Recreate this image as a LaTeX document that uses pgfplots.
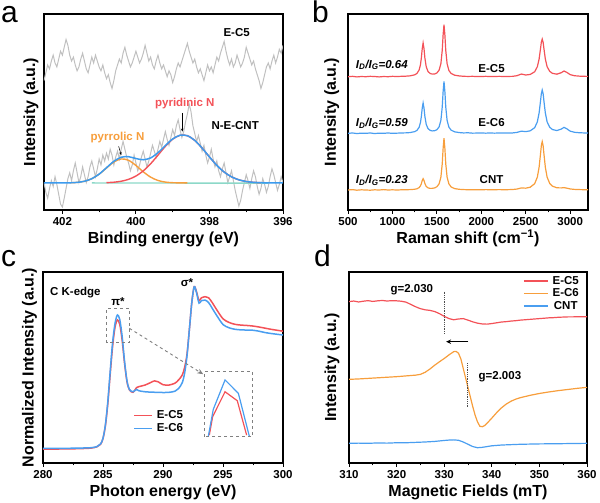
\documentclass[border=0pt]{standalone}
\usepackage{pgfplots}
\pgfplotsset{compat=1.18}
\usepackage{pgfplotstable}
\usepackage{fontspec}
\setmainfont{Liberation Sans}
\usetikzlibrary{arrows.meta}

\definecolor{cred}{RGB}{243,82,88}
\definecolor{cblue}{RGB}{74,158,240}
\definecolor{corange}{RGB}{247,158,60}
\definecolor{cgrey}{RGB}{192,192,192}
\definecolor{cmint}{RGB}{140,216,200}
\definecolor{fitblue}{RGB}{60,155,238}

\newcommand\annfont{\fontsize{11.5}{13}\selectfont\bfseries}
\newcommand\panelletter{\fontsize{30}{32}\selectfont}
\tikzset{ann/.style={font=\annfont}}

\pgfplotsset{
  panel/.style={
    scale only axis,
    axis line style={line width=1.2pt},
    tick align=outside,
    xtick pos=left,
    ytick=\empty,
    major tick length=4pt,
    minor tick length=2.5pt,
    every tick/.style={black, line width=0.9pt},
    /pgf/number format/assume math mode=true,
    /pgf/number format/1000 sep={},
    xticklabel style={font=\fontsize{11.5}{13}\selectfont\bfseries},
    label style={font=\fontsize{16}{18}\selectfont\bfseries},
    xlabel style={at={(axis description cs:0.5,0)}, anchor=base, yshift=-33.5pt},
    ymin=0, ymax=100,
    legend image code/.code={\draw[#1, line width=1.6pt] (0pt,0pt) -- (18pt,0pt);},
  },
}

% N 1s XPS: raw traces
\pgfplotstableread{
x ec5 necnt
402.50 66 14
402.45 70 9
402.40 74 6
402.35 72 11
402.30 76 15
402.25 79 12
402.20 75 17
402.15 73 13
402.10 77 8
402.05 81 3
402.00 79 1.5
401.95 83 6
401.90 87 11
401.85 84 16
401.80 79 19
401.75 76 15
401.70 78 20
401.65 74 24
401.60 71 19
401.55 73 14
401.50 77 17
401.45 80 22
401.40 76 18
401.35 72 14
401.30 70 17
401.25 74 22
401.20 78 25
401.15 75 21
401.10 79 17
401.05 76 21
401.00 73 26
400.95 71 23
400.90 74 28
400.85 70 25
400.80 67 29
400.75 69 26
400.70 65 31
400.65 62 28
400.60 66 23
400.55 71 27
400.50 74 30
400.45 77 26
400.40 75 31
400.35 80 35
400.30 83 31
400.25 79 27
400.20 76 24
400.15 73 20
400.10 75 23
400.05 78 28
400.00 81 24
399.95 78 20
399.90 75 23
399.85 77 27
399.80 80 30
399.75 84 26
399.70 80 22
399.65 76 25
399.60 78 29
399.55 74 33
399.50 72 30
399.45 76 27
399.40 79 31
399.35 75 35
399.30 72 32
399.25 74 36
399.20 71 40
399.15 68 36
399.10 71 33
399.05 69 37
399.00 65 41
398.95 68 38
398.90 72 43
398.85 75 46
398.80 73 41
398.75 76 37
398.70 79 40
398.65 82 45
398.60 85 49
398.55 81 54
398.50 78 50
398.45 75 43
398.40 77 39
398.35 73 35
398.30 70 38
398.25 72 34
398.20 69 30
398.15 66 33
398.10 70 28
398.05 74 24
398.00 71 27
397.95 73 31
397.90 70 26
397.85 74 22
397.80 78 25
397.75 76 20
397.70 80 17
397.65 83 21
397.60 86 24
397.55 81 19
397.50 77 14
397.45 74 17
397.40 77 20
397.35 73 15
397.30 75 10
397.25 79 6
397.20 76 2
397.15 73 5
397.10 75 10
397.05 78 14
397.00 83 18
396.95 80 15
396.90 77 11
396.85 74 16
396.80 76 20
396.75 72 17
396.70 69 12
396.65 66 8
396.60 62 11
396.55 65 16
396.50 69 13
396.45 73 9
396.40 75 12
396.35 72 17
396.30 76 21
396.25 79 18
396.20 75 14
396.15 78 10
396.10 82 13
396.05 80 17
396.00 84 14
}\xpsraw

% Raman spectra
\pgfplotstableread{
x cnt ec6 ec5
500 10.2 39.1 68.0
550 10.4 39.3 68.2
600 10.1 39.0 67.9
650 10.3 39.2 68.1
700 10.2 39.1 68.0
750 10.1 39.3 68.2
800 10.3 39.0 68.1
850 10.2 39.2 67.9
900 10.4 39.1 68.1
950 10.2 39.3 68.0
1000 10.3 39.1 68.2
1050 10.2 39.2 68.1
1100 10.3 39.3 68.2
1150 10.35 39.36 68.28
1200 10.4 39.51 68.45
1250 10.58 39.98 68.97
1275 10.82 40.59 69.64
1300 11.42 42.18 71.41
1315 12.31 44.61 74.1
1325 13.43 47.64 77.48
1335 15.01 51.95 82.26
1345 15.99 54.59 85.19
1355 15.05 51.99 82.3
1365 13.5 47.71 77.55
1380 12.04 43.69 73.07
1400 11.29 41.53 70.67
1425 11.02 40.6 69.62
1450 11.05 40.35 69.32
1475 11.28 40.45 69.4
1500 11.87 40.97 69.9
1525 13.37 42.41 71.34
1545 16.76 45.77 74.69
1560 23.46 52.46 81.38
1570 31.37 60.37 89.28
1580 36.65 65.63 94.55
1590 31.36 60.34 89.26
1600 23.44 52.4 81.33
1615 16.73 45.69 74.61
1635 13.32 42.28 71.19
1660 11.76 40.74 69.65
1700 10.91 39.87 68.78
1750 10.56 39.51 68.41
1800 10.42 39.32 68.22
1850 10.34 39.4 68.14
1900 10.3 39.2 68.2
1950 10.38 39.25 68.1
2000 10.31 39.3 68.08
2050 10.4 39.2 68.2
2100 10.33 39.3 68.06
2150 10.35 39.2 68.1
2200 10.4 39.3 68.19
2250 10.35 39.25 68.12
2300 10.38 39.26 68.14
2350 10.44 39.31 68.18
2400 10.68 39.58 68.52
2450 11.27 40.22 69.36
2500 11.13 39.98 68.87
2550 11.63 40.4 69.16
2600 13.44 42.0 70.52
2630 16.75 44.96 73.09
2650 21.83 49.51 77.04
2665 28.26 55.26 82.04
2675 32.83 59.34 85.59
2685 34.9 61.2 87.2
2695 32.83 59.34 85.59
2705 28.26 55.26 82.04
2720 21.83 49.51 77.04
2740 16.75 44.96 73.09
2770 13.5 42.19 70.7
2800 12.16 41.05 69.72
2850 11.32 40.53 69.3
2900 11.27 41.29 70.06
2930 11.43 42.17 70.92
2960 11.16 41.47 70.26
3000 10.73 40.21 69.05
3050 10.51 39.64 68.5
3100 10.42 39.43 68.3
3150 10.36 39.33 68.21
3200 10.32 39.27 68.16
}\raman

\begin{document}
\begin{tikzpicture}
\useasboundingbox (0pt,0pt) rectangle (600pt,503pt);

% ---------------- (a) N 1s XPS ----------------
\node[anchor=base west, inner sep=0pt] at (1pt,480pt) {\panelletter a};
\begin{axis}[panel, at={(44pt,293pt)}, anchor=south west,
  width=239pt, height=196pt,
  x dir=reverse, xmin=396, xmax=402.5,
  xtick={396,398,400,402}, minor x tick num=1,
  xlabel={Binding energy (eV)}, ylabel={Intensity (a.u.)},
  ylabel style={at={(axis description cs:-0.008,0.5)}, anchor=south},
]
\addplot[cgrey, line width=1.0pt] table[x=x, y=ec5] {\xpsraw};
\addplot[cgrey, line width=1.0pt] table[x=x, y=necnt] {\xpsraw};
% background
\addplot[cmint, line width=1.4pt] coordinates {(401.2,13.8) (396.4,13.7)};
% pyrrolic N component
\addplot[corange, line width=1.4pt, smooth] coordinates {
(401.8,13.87) (401.6,14.08) (401.4,14.65) (401.2,15.96) (401.0,18.27) (400.8,21.43)
(400.6,24.47) (400.4,26.05) (400.2,25.35) (400.0,22.73) (399.8,19.47) (399.6,16.76)
(399.4,15.06) (399.2,14.24) (399.0,13.93) (398.8,13.83) (398.6,13.8)};
% pyridinic N component
\addplot[cred, line width=1.4pt, smooth] coordinates {
(400.8,13.95) (400.6,14.18) (400.4,14.67) (400.2,15.64) (400.0,17.33) (399.8,19.96)
(399.6,23.6) (399.4,27.98) (399.2,32.45) (399.0,36.13) (398.8,38.11) (398.6,37.89)
(398.4,35.5) (398.2,31.59) (398.0,27.07) (397.8,22.8) (397.6,19.35) (397.4,16.92)
(397.2,15.39) (397.0,14.54) (396.8,14.11) (396.6,13.92)};
% envelope
\addplot[fitblue, line width=1.5pt, smooth] coordinates {
(402.5,13.8) (402.2,13.8) (402.0,13.82) (401.8,13.87) (401.6,14.08) (401.4,14.66)
(401.2,15.97) (401.0,18.32) (400.8,21.58) (400.6,24.85) (400.4,26.92) (400.2,27.19)
(400.0,26.26) (399.8,25.63) (399.6,26.56) (399.4,29.24) (399.2,32.89) (399.0,36.26)
(398.8,38.14) (398.6,37.89) (398.4,35.5) (398.2,31.59) (398.0,27.07) (397.8,22.8)
(397.6,19.35) (397.4,16.92) (397.2,15.39) (397.0,14.54) (396.8,14.11) (396.6,13.92)
(396.4,13.84) (396.2,13.81) (396.0,13.8)};
\node[ann] at (axis cs:397.26,90.3) {E-C5};
\node[ann] at (axis cs:397.3,42.9) {N-E-CNT};
\node[ann, text=cred] at (axis cs:398.67,54.5) {pyridinic N};
\node[ann, text=corange] at (axis cs:400.5,37.2) {pyrrolic N};
\draw[-{Stealth[length=3pt,width=2.5pt]}, line width=0.5pt] (axis cs:398.74,49.5) -- (axis cs:398.74,40);
\draw[-{Stealth[length=3pt,width=2.5pt]}, line width=0.5pt] (axis cs:400.47,32.5) -- (axis cs:400.4,28);
\end{axis}

% ---------------- (b) Raman ----------------
\node[anchor=base west, inner sep=0pt] at (312pt,480pt) {\panelletter b};
\begin{axis}[panel, at={(348pt,293pt)}, anchor=south west,
  width=240pt, height=196pt,
  xmin=500, xmax=3200,
  xtick={500,1000,...,3000}, minor x tick num=1,
  xlabel={Raman shift (cm\textsuperscript{−1})}, ylabel={Intensity (a.u.)},
  ylabel style={at={(axis description cs:-0.022,0.5)}, anchor=south},
]
\addplot[corange, line width=1.2pt] table[x=x, y=cnt] {\raman};
\addplot[cblue, line width=1.2pt] table[x=x, y=ec6] {\raman};
\addplot[cred, line width=1.2pt] table[x=x, y=ec5] {\raman};
\node[font=\annfont\itshape] at (axis cs:880,74) {I\textsubscript{D}/I\textsubscript{G}=0.64};
\node[font=\annfont\itshape] at (axis cs:880,44.4) {I\textsubscript{D}/I\textsubscript{G}=0.59};
\node[font=\annfont\itshape] at (axis cs:880,15.3) {I\textsubscript{D}/I\textsubscript{G}=0.23};
\node[ann] at (axis cs:2115,72.4) {E-C5};
\node[ann] at (axis cs:2115,44.4) {E-C6};
\node[ann] at (axis cs:2115,15.3) {CNT};
\end{axis}

% ---------------- (c) C K-edge NEXAFS ----------------
\node[anchor=base west, inner sep=0pt] at (1pt,236pt) {\panelletter c};
\begin{axis}[panel, at={(43pt,40pt)}, anchor=south west,
  width=240pt, height=191pt,
  xmin=280, xmax=300,
  xtick={280,285,...,300}, minor x tick num=1,
  xlabel={Photon energy (eV)}, ylabel={Normalized Intensity (a.u.)},
  ylabel style={at={(axis description cs:-0.01,0.5)}, anchor=south},
  legend style={at={(rel axis cs:0.375,0.285)}, anchor=north west, draw=none, fill=none,
    font=\annfont, inner sep=0pt, row sep=-0.5pt, column sep=2pt},
]
\addplot[cred, line width=1.5pt, smooth] coordinates {
(280,7.3) (281,7.3) (282,7.4) (283,7.5) (284,7.8) (284.5,8.5) (284.8,9.8) (285.0,12.8)
(285.2,19.5) (285.4,31) (285.6,46.5) (285.8,61) (286.0,71) (286.2,74.9) (286.4,72.5)
(286.6,64) (286.8,52) (287.0,42.5) (287.2,38.3) (287.5,37.0) (287.8,39.5) (288.0,40.0)
(288.5,40.8) (289.0,42.2) (289.3,43) (289.6,42.5) (290.0,41) (290.5,40.8) (291.0,41.8)
(291.3,43.5) (291.6,46) (291.8,50) (292.0,57) (292.2,70) (292.4,84) (292.6,92.3)
(292.8,89.5) (293.0,85) (293.2,86.5) (293.5,87.1) (293.8,86.5) (294.1,84) (294.5,80)
(295.0,75.5) (295.5,73.6) (296.0,72.6) (296.5,72.2) (297.0,72.0) (297.5,71.7) (298.0,71.2)
(298.5,70.6) (299.0,70.0) (299.5,69.5) (300.0,69.0)};
\addlegendentry{E-C5}
\addplot[cblue, line width=1.5pt, smooth] coordinates {
(280,7.7) (281,7.7) (282,7.7) (283,7.8) (284,8.0) (284.5,8.6) (284.8,10) (285.0,13)
(285.2,20) (285.4,32) (285.6,48) (285.8,63) (286.0,73) (286.2,77.5) (286.4,75)
(286.6,66) (286.8,53) (287.0,43) (287.2,38.5) (287.5,37.3) (287.8,38.5) (288.0,37.8)
(288.5,37.3) (289.0,37.1) (289.5,37.0) (290.0,36.9) (290.5,37.0) (291.0,37.6) (291.3,39)
(291.6,42) (291.8,47) (292.0,56) (292.2,70) (292.4,84) (292.6,92.3) (292.8,89)
(293.0,83.7) (293.2,85) (293.5,85.3) (293.8,84) (294.1,81) (294.5,77) (295.0,72.5)
(295.5,70.8) (296.0,70.0) (296.5,69.7) (297.0,69.6) (297.5,69.5) (298.0,69) (298.5,68.3)
(299.0,67.8) (299.5,67.4) (300.0,67.0)};
\addlegendentry{E-C6}
% magnified pi* maximum
\addplot[cred, line width=1.2pt, forget plot] coordinates {
(293.86,14.6) (294.14,24.3) (295.17,37.3) (296.19,32.6) (296.97,14.6)};
\addplot[cblue, line width=1.2pt, forget plot] coordinates {
(293.78,14.1) (294.19,28.1) (295.17,43.5) (296.28,36.5) (297.19,14.1)};
\draw[gray, dashed, line width=0.9pt] (axis cs:285.3,63) rectangle (axis cs:287.2,81);
\draw[gray, dashed, line width=0.9pt] (axis cs:293.42,13.8) rectangle (axis cs:297.47,47.8);
\draw[gray, dashed, line width=0.9pt, -{Stealth[length=6pt,width=5pt]}]
  (axis cs:287.2,70.5) -- (axis cs:293.35,46.5);
\node[ann, anchor=west] at (axis cs:280.3,89.5) {C K-edge};
\node[ann] at (axis cs:286.25,84.3) {π*};
\node[ann] at (axis cs:292.0,94.4) {σ*};
\end{axis}

% ---------------- (d) EPR ----------------
\node[anchor=base west, inner sep=0pt] at (314pt,236pt) {\panelletter d};
\begin{axis}[panel, at={(349pt,40pt)}, anchor=south west,
  width=238pt, height=191pt,
  xmin=310, xmax=360,
  xtick={310,320,...,360}, minor x tick num=1,
  xlabel={Magnetic Fields (mT)}, ylabel={Intensity (a.u.)},
  ylabel style={at={(axis description cs:-0.025,0.5)}, anchor=south},
  legend style={at={(rel axis cs:0.975,0.99)}, anchor=north east, draw=none, fill=none,
    font=\annfont, inner sep=0pt, row sep=-1pt, column sep=2pt},
  legend image code/.code={\draw[#1, line width=1.6pt] (0pt,0pt) -- (24pt,0pt);},
]
\addplot[cred, line width=1.2pt] coordinates {
(310,84.5) (311,84.8) (312,84.3) (313,84.7) (314,85.0) (315,84.6) (316,84.9) (317,85.1)
(318,84.8) (319,85.0) (320,84.9) (321,84.7) (322,84.2) (323,83.0) (324,81.8) (325,80.8)
(326,80.2) (327,79.9) (328,79.3) (329,78.2) (330,76.8) (331,75.6) (332,75.0) (333,75.4)
(334,75.6) (335,74.8) (336,73.9) (337,73.2) (338,72.8) (339,72.7) (340,73.0) (341,73.4)
(342,73.8) (343,74.0) (344,74.3) (345,74.5) (346,74.8) (347,75.0) (348,75.2) (349,75.4)
(350,75.6) (351,75.8) (352,76.0) (353,76.1) (354,76.3) (355,76.4) (356,76.5) (357,76.5)
(358,76.6) (359,76.6) (360,76.6)};
\addlegendentry{E-C5}
\addplot[corange, line width=1.2pt] coordinates {
(310,43.8) (312,44.0) (314,44.3) (316,44.6) (318,44.9) (320,45.2) (322,45.6) (324,46.0)
(325,46.4) (326,47.5) (327,49.2) (328,51.2) (329,53.0) (330,54.7) (331,56.6) (332,58.3)
(332.5,58.4) (333,57.5) (333.5,54.5) (334,49.5) (334.5,44.5) (335,39.5) (335.5,34.5)
(336,29.5) (336.5,25) (337,21.5) (337.5,19.2) (338,19.0) (338.5,19.6) (339,20.8)
(340,23.5) (341,26.3) (342,28.8) (343,30.8) (344,32.3) (345,33.4) (346,34.2) (347,34.8)
(348,35.4) (349,35.9) (350,36.4) (352,37.2) (354,37.9) (356,38.5) (358,39.1) (360,39.6)};
\addlegendentry{E-C6}
\addplot[cblue, line width=1.2pt] coordinates {
(310,10.3) (312,10.4) (314,10.3) (316,10.5) (318,10.4) (320,10.6) (322,10.6) (324,10.8)
(326,11.0) (328,11.3) (330,11.8) (331,12.0) (332,12.1) (333,11.9) (334,11.0) (335,9.8)
(336,8.6) (337,8.0) (338,8.2) (339,8.6) (340,9.0) (342,9.4) (344,9.6) (346,9.8)
(348,9.9) (350,10.0) (354,10.1) (357,10.2) (360,10.3)};
\addlegendentry{CNT}
\draw[densely dotted, line width=0.8pt, gray!60!black] (axis cs:330.0,89.7) -- (axis cs:330.0,67.9);
\draw[densely dotted, line width=0.8pt, gray!60!black] (axis cs:334.9,52.2) -- (axis cs:334.9,29.5);
\draw[-{Stealth[length=5pt,width=4.5pt]}, line width=1.1pt] (axis cs:335.1,63.5) -- (axis cs:330.4,63.5);
\node[ann] at (axis cs:323.2,90.6) {g=2.030};
\node[ann] at (axis cs:341.7,45.2) {g=2.003};
\end{axis}
\end{tikzpicture}
\end{document}
